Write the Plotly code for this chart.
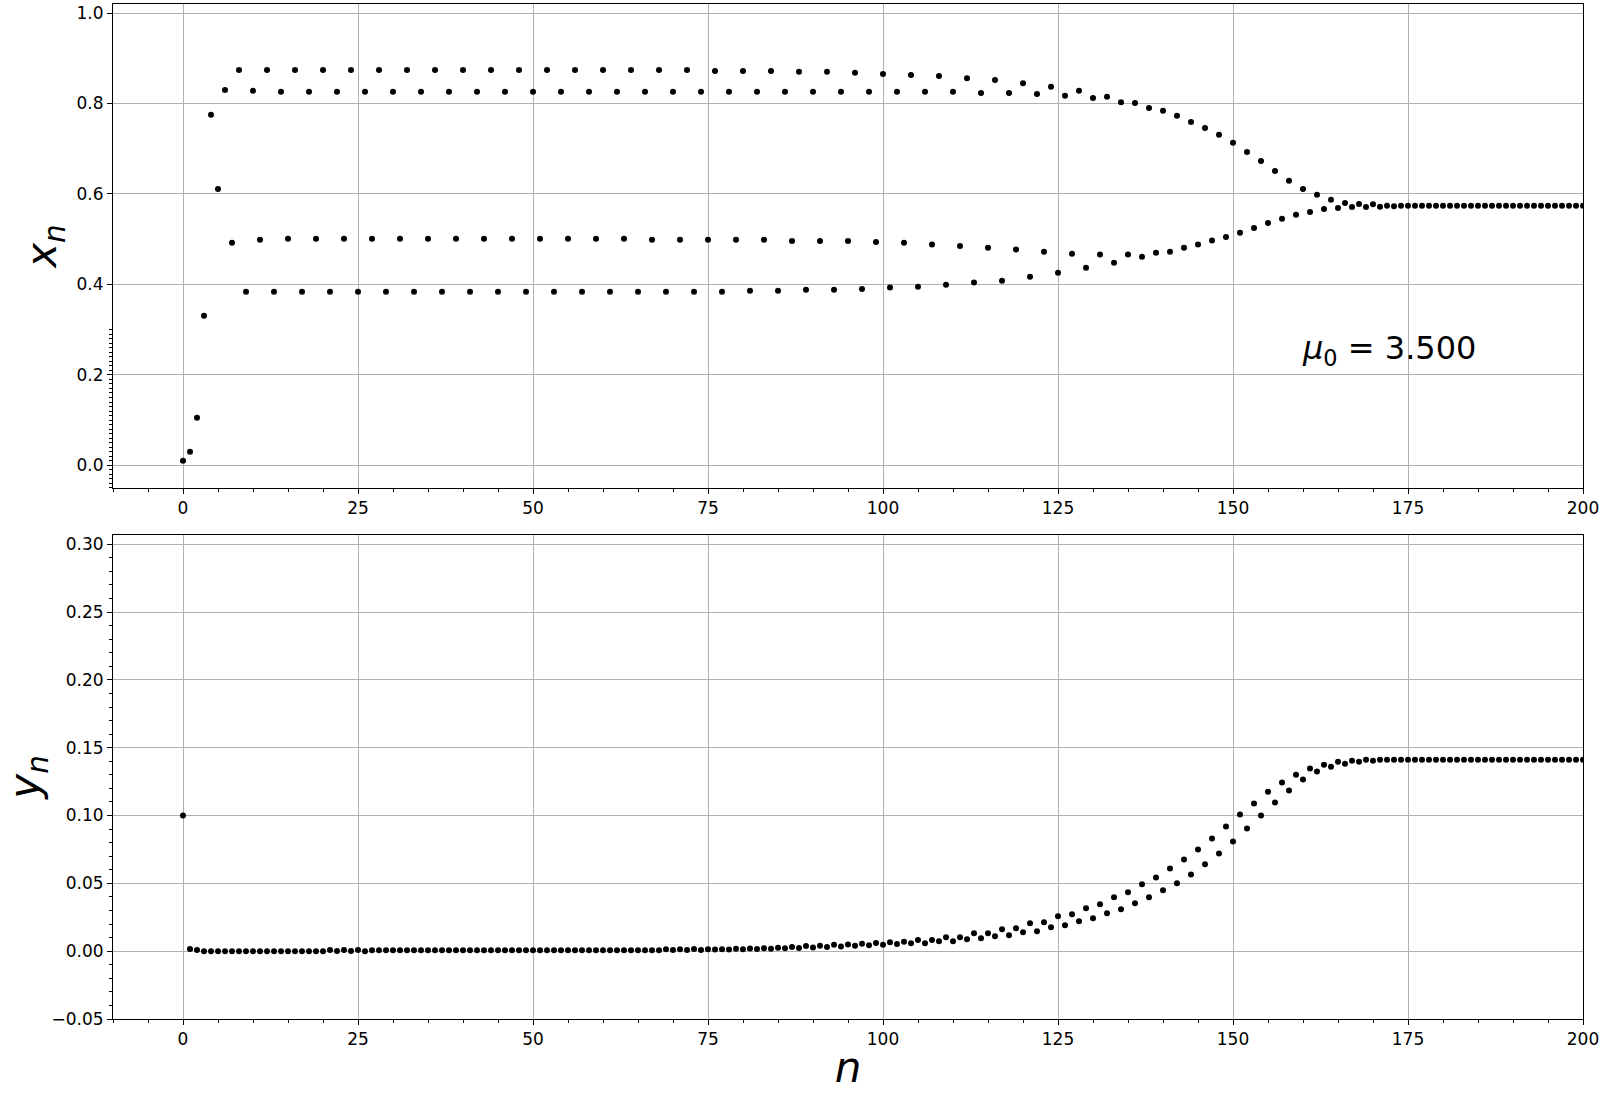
import plotly.graph_objects as go
from plotly.subplots import make_subplots

# ── Dados ───────────────────────────────────────────────────────────
n_vals = list(range(0, 201))

x_vals = [
    0.010, 0.030, 0.105, 0.331, 0.775, 0.611, 0.830, 0.492,   # 0-7
    0.874, 0.384, 0.828, 0.499, 0.874, 0.384, 0.826, 0.501,   # 8-15
    0.874, 0.384, 0.826, 0.501, 0.874, 0.384, 0.826, 0.501,   # 16-23
    0.874, 0.384, 0.826, 0.501, 0.874, 0.384, 0.826, 0.501,   # 24-31
    0.874, 0.384, 0.826, 0.501, 0.874, 0.384, 0.826, 0.501,   # 32-39
    0.874, 0.384, 0.826, 0.501, 0.874, 0.384, 0.826, 0.501,   # 40-47
    0.874, 0.384, 0.826, 0.501, 0.874, 0.384, 0.826, 0.501,   # 48-55
    0.874, 0.384, 0.826, 0.501, 0.874, 0.384, 0.826, 0.501,   # 56-63
    0.874, 0.384, 0.826, 0.499, 0.874, 0.384, 0.826, 0.499,   # 64-71
    0.874, 0.384, 0.826, 0.499, 0.872, 0.384, 0.826, 0.499,   # 72-79
    0.872, 0.386, 0.826, 0.499, 0.872, 0.386, 0.826, 0.496,   # 80-87
    0.870, 0.388, 0.826, 0.496, 0.870, 0.388, 0.826, 0.496,   # 88-95
    0.868, 0.390, 0.826, 0.494, 0.865, 0.393, 0.826, 0.492,   # 96-103
    0.863, 0.395, 0.826, 0.488, 0.861, 0.399, 0.826, 0.485,   # 104-111
    0.856, 0.404, 0.823, 0.481, 0.852, 0.408, 0.823, 0.477,   # 112-119
    0.845, 0.417, 0.821, 0.472, 0.837, 0.426, 0.817, 0.468,   # 120-127
    0.828, 0.437, 0.812, 0.466, 0.815, 0.448, 0.803, 0.466,   # 128-135
    0.801, 0.461, 0.790, 0.470, 0.784, 0.472, 0.773, 0.481,   # 136-143
    0.759, 0.488, 0.746, 0.497, 0.731, 0.505, 0.713, 0.514,   # 144-151
    0.693, 0.525, 0.673, 0.536, 0.651, 0.545, 0.629, 0.554,   # 152-159
    0.611, 0.560, 0.598, 0.567, 0.587, 0.569, 0.580, 0.571,   # 160-167
    0.578, 0.571, 0.577, 0.572, 0.574, 0.573, 0.574, 0.574,   # 168-175
    0.574, 0.574, 0.574, 0.574, 0.574, 0.574, 0.574, 0.574,   # 176-183
    0.574, 0.574, 0.574, 0.574, 0.574, 0.574, 0.574, 0.574,   # 184-191
    0.574, 0.574, 0.574, 0.574, 0.574, 0.574, 0.574, 0.574,   # 192-199
    0.574,                                                    # 200
]

y_vals = [
    0.1000, 0.0016, 0.0008, 0.0000, 0.0000, 0.0000, 0.0000, 0.0000,   # 0-7
    0.0000, 0.0000, 0.0000, 0.0000, 0.0000, 0.0000, 0.0000, 0.0000,   # 8-15
    0.0000, 0.0000, 0.0000, 0.0000, 0.0000, 0.0008, 0.0002, 0.0008,   # 16-23
    0.0002, 0.0008, 0.0000, 0.0006, 0.0006, 0.0006, 0.0006, 0.0006,   # 24-31
    0.0006, 0.0006, 0.0006, 0.0006, 0.0006, 0.0006, 0.0006, 0.0006,   # 32-39
    0.0006, 0.0006, 0.0006, 0.0006, 0.0006, 0.0006, 0.0006, 0.0006,   # 40-47
    0.0006, 0.0006, 0.0006, 0.0006, 0.0006, 0.0006, 0.0006, 0.0006,   # 48-55
    0.0006, 0.0006, 0.0006, 0.0006, 0.0006, 0.0006, 0.0006, 0.0006,   # 56-63
    0.0006, 0.0006, 0.0006, 0.0006, 0.0006, 0.0015, 0.0008, 0.0015,   # 64-71
    0.0009, 0.0016, 0.0009, 0.0014, 0.0012, 0.0015, 0.0013, 0.0017,   # 72-79
    0.0014, 0.0019, 0.0016, 0.0022, 0.0018, 0.0026, 0.0021, 0.0030,   # 80-87
    0.0024, 0.0038, 0.0027, 0.0040, 0.0031, 0.0047, 0.0035, 0.0050,   # 88-95
    0.0040, 0.0055, 0.0044, 0.0060, 0.0048, 0.0066, 0.0052, 0.0069,   # 96-103
    0.0059, 0.0083, 0.0059, 0.0083, 0.0074, 0.0103, 0.0074, 0.0103,   # 104-111
    0.0088, 0.0132, 0.0096, 0.0132, 0.0110, 0.0162, 0.0118, 0.0169,   # 112-119
    0.0140, 0.0206, 0.0147, 0.0213, 0.0176, 0.0257, 0.0191, 0.0272,   # 120-127
    0.0221, 0.0316, 0.0243, 0.0346, 0.0279, 0.0397, 0.0309, 0.0434,   # 128-135
    0.0353, 0.0493, 0.0397, 0.0544, 0.0449, 0.0610, 0.0500, 0.0676,   # 136-143
    0.0566, 0.0750, 0.0640, 0.0831, 0.0720, 0.0919, 0.0809, 0.1007,   # 144-151
    0.0904, 0.1088, 0.1000, 0.1176, 0.1096, 0.1243, 0.1184, 0.1301,   # 152-159
    0.1265, 0.1346, 0.1324, 0.1375, 0.1360, 0.1397, 0.1382, 0.1404,   # 160-167
    0.1397, 0.1412, 0.1404, 0.1412, 0.1412, 0.1412, 0.1412, 0.1412,   # 168-175
    0.1412, 0.1412, 0.1412, 0.1412, 0.1412, 0.1412, 0.1412, 0.1412,   # 176-183
    0.1412, 0.1412, 0.1412, 0.1412, 0.1412, 0.1412, 0.1412, 0.1412,   # 184-191
    0.1412, 0.1412, 0.1412, 0.1412, 0.1412, 0.1412, 0.1412, 0.1412,   # 192-199
    0.1412,                                                           # 200
]

x_ticks = [0, 25, 50, 75, 100, 125, 150, 175, 200]
top_y_ticks = [0.0, 0.2, 0.4, 0.6, 0.8, 1.0]
bottom_y_ticks = [-0.05, 0.00, 0.05, 0.10, 0.15, 0.20, 0.25, 0.30]
top_y_minor = [-0.05, -0.04, -0.03, -0.02, -0.01, 0.00, 0.01, 0.02, 0.03, 0.04,
               0.05, 0.06, 0.07, 0.08, 0.09, 0.10, 0.11, 0.12, 0.13, 0.14,
               0.15, 0.16, 0.17, 0.18, 0.19, 0.20, 0.21, 0.22, 0.23, 0.24,
               0.25, 0.26, 0.27, 0.28, 0.29, 0.30]
mu0_label = "<i>μ</i><sub>0</sub> = 3.500"

# ── Estilo ──────────────────────────────────────────────────────────
FONT = "DejaVu Sans"
GRID = "#b0b0b0"

axis_common = dict(
    showline=True, linecolor="black", linewidth=1, mirror=True,
    ticks="outside", ticklen=5, tickwidth=1, tickcolor="black",
    showgrid=True, gridcolor=GRID, gridwidth=1,
    zeroline=False, automargin=False,
    tickfont=dict(family=FONT, size=17, color="black"),
)

fig = make_subplots(rows=2, cols=1)

fig.add_trace(go.Scatter(
    x=n_vals, y=x_vals, mode="markers",
    marker=dict(color="black", size=6),
    showlegend=False,
), row=1, col=1)

fig.add_trace(go.Scatter(
    x=n_vals, y=y_vals, mode="markers",
    marker=dict(color="black", size=6),
    showlegend=False,
), row=2, col=1)

x_minor = dict(dtick=5, tick0=0, ticklen=3, tickcolor="black", showgrid=False)

fig.update_layout(
    width=1600, height=1100,
    paper_bgcolor="white", plot_bgcolor="white",
    margin=dict(l=113, r=17, t=4, b=81),
    font=dict(family=FONT, color="black"),
    xaxis=dict(axis_common, domain=[0, 1], range=[-10, 200],
               tickvals=x_ticks, minor=x_minor),
    xaxis2=dict(axis_common, domain=[0, 1], range=[-10, 200],
                tickvals=x_ticks, minor=x_minor,
                title=dict(text="<i>n</i>", font=dict(family=FONT, size=42), standoff=4)),
    yaxis=dict(axis_common, domain=[0.5232, 1], range=[-0.05, 1.02],
               tickvals=top_y_ticks, tickformat=".1f",
               minor=dict(tickmode="array", tickvals=top_y_minor, ticklen=3,
                          tickcolor="black", showgrid=False),
               title=dict(text="<i>x<sub>n</sub></i>", font=dict(family=FONT, size=42), standoff=6)),
    yaxis2=dict(axis_common, domain=[0, 0.4771], range=[-0.05, 0.307],
                tickvals=bottom_y_ticks, tickformat=".2f",
                minor=dict(dtick=0.01, tick0=0, ticklen=3, tickcolor="black", showgrid=False),
                title=dict(text="<i>y<sub>n</sub></i>", font=dict(family=FONT, size=42), standoff=4)),
)

fig.add_annotation(
    x=159.5, y=0.255, xref="x", yref="y",
    text=mu0_label, showarrow=False,
    xanchor="left", yanchor="middle",
    font=dict(family=FONT, size=32, color="black"),
)

# a margem padrão do <body> desloca a figura 8px; remove
fig.write_html(
    "out.html",
    config={"displayModeBar": False},
    post_script="document.body.style.margin='0px';",
)
